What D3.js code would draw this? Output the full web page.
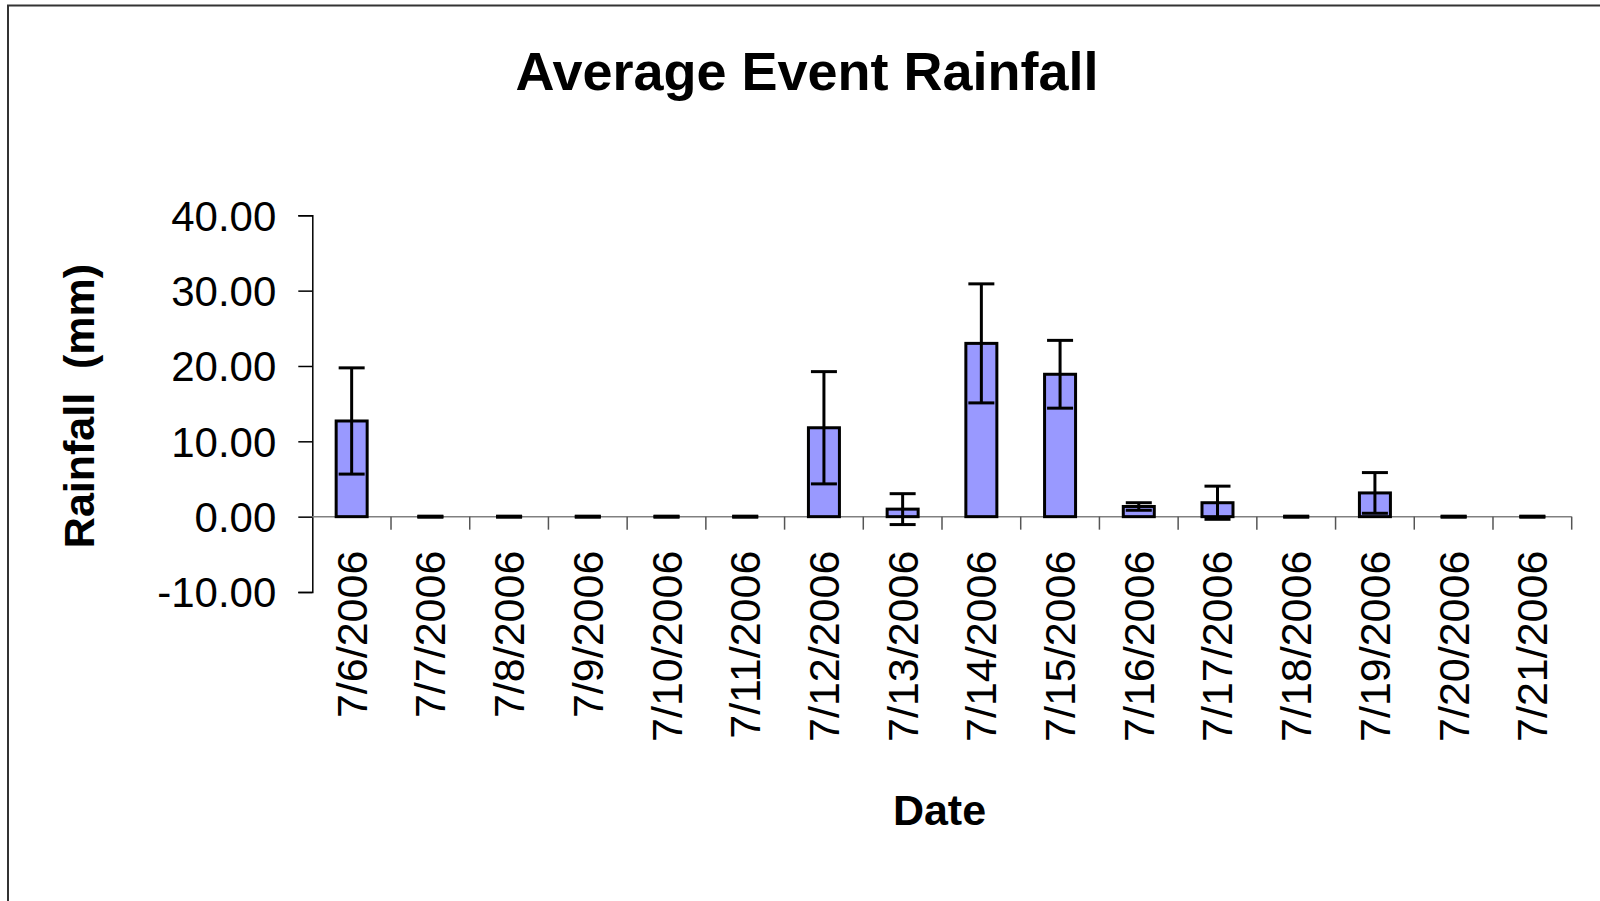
<!DOCTYPE html>
<html>
<head>
<meta charset="utf-8">
<script src="https://cdn.jsdelivr.net/npm/d3@7"></script>
<style>
  html, body { margin: 0; padding: 0; background: #fff; }
  svg { display: block; }
  text { font-family: "Liberation Sans", Arial, sans-serif; fill: #000; }
</style>
</head>
<body>
<svg id="chart" width="1600" height="901"></svg>
<script>
// Daily average event rainfall (mm) with standard-deviation error bars
const dates = ["7/6/2006", "7/7/2006", "7/8/2006", "7/9/2006", "7/10/2006", "7/11/2006",
  "7/12/2006", "7/13/2006", "7/14/2006", "7/15/2006", "7/16/2006", "7/17/2006",
  "7/18/2006", "7/19/2006", "7/20/2006", "7/21/2006"];
const rainfall = [12.7, 0, 0, 0, 0, 0, 11.8, 1.0, 23.0, 18.9, 1.35, 1.85, 0, 3.15, 0, 0];
const errors = [7.05, 0, 0, 0, 0, 0, 7.45, 2.05, 7.9, 4.5, 0.5, 2.2, 0, 2.7, 0, 0];
const yTicks = [-10, 0, 10, 20, 30, 40];

const svg = d3.select("#chart");

// outer chart frame (top and left edges)
svg.append("path")
  .attr("d", "M8,901 V5.5 H1600")
  .attr("fill", "none").attr("stroke", "#333").attr("stroke-width", 2);

const x = d3.scaleBand().domain(dates).range([312.3, 1571.7]).padding(0);
const y = d3.scaleLinear().domain([-10, 40]).range([592, 215.3]);

const barW = 31, capW = 26;
const cx = d => x(d) + x.bandwidth() / 2;
const rows = dates.map((d, i) => ({ date: d, v: rainfall[i], e: errors[i] }));

// y axis
const yAxis = svg.append("g").attr("transform", "translate(312.3,0)")
  .call(d3.axisLeft(y).tickValues(yTicks).tickSize(14).tickPadding(22)
    .tickFormat(v => v.toFixed(2)));
yAxis.select(".domain").attr("stroke", "#000").attr("stroke-width", 1.5);
yAxis.selectAll(".tick line").attr("stroke", "#000").attr("stroke-width", 1.5);
yAxis.selectAll(".tick text")
  .style("font-family", "'Liberation Sans', Arial, sans-serif")
  .style("font-size", "42px").attr("fill", "#000").attr("dy", "0.35em");

// category axis along the zero line
const xAxis = svg.append("g").attr("transform", `translate(0,${y(0)})`);
xAxis.append("line")
  .attr("x1", x.range()[0]).attr("x2", x.range()[1])
  .attr("stroke", "#808080").attr("stroke-width", 1.5);
xAxis.selectAll("line.tick")
  .data(dates.map(d => x(d)).concat([x.range()[1]]).slice(1))
  .join("line").attr("class", "tick")
  .attr("x1", d => d).attr("x2", d => d).attr("y1", 0).attr("y2", 13)
  .attr("stroke", "#555").attr("stroke-width", 1.5);
xAxis.selectAll("text")
  .data(dates).join("text")
  .attr("transform", d => `translate(${cx(d) + 15},34) rotate(-90)`)
  .attr("text-anchor", "end")
  .style("font-size", "43px")
  .text(d => d);

// bars
svg.append("g").selectAll("rect")
  .data(rows.filter(r => r.v !== 0)).join("rect")
  .attr("x", r => cx(r.date) - barW / 2)
  .attr("width", barW)
  .attr("y", r => y(r.v))
  .attr("height", r => y(0) - y(r.v))
  .attr("fill", "#9999FF").attr("stroke", "#000").attr("stroke-width", 3);

// error bars
const eb = svg.append("g").attr("stroke", "#000").attr("stroke-width", 3);
eb.selectAll("line.stem").data(rows).join("line").attr("class", "stem")
  .attr("x1", r => cx(r.date)).attr("x2", r => cx(r.date))
  .attr("y1", r => y(r.v + r.e)).attr("y2", r => y(r.v - r.e));
eb.selectAll("line.capTop").data(rows).join("line").attr("class", "capTop")
  .attr("x1", r => cx(r.date) - capW / 2).attr("x2", r => cx(r.date) + capW / 2)
  .attr("y1", r => y(r.v + r.e)).attr("y2", r => y(r.v + r.e));
eb.selectAll("line.capBot").data(rows).join("line").attr("class", "capBot")
  .attr("x1", r => cx(r.date) - capW / 2).attr("x2", r => cx(r.date) + capW / 2)
  .attr("y1", r => y(r.v - r.e)).attr("y2", r => y(r.v - r.e))
  .attr("stroke-width", r => r.e === 0 ? 4 : 3);

// titles
svg.append("text").attr("x", 807).attr("y", 89.5)
  .attr("text-anchor", "middle")
  .style("font-size", "54px").style("font-weight", "bold")
  .text("Average Event Rainfall");

svg.append("text").attr("x", 939.5).attr("y", 825)
  .attr("text-anchor", "middle")
  .style("font-size", "43px").style("font-weight", "bold")
  .text("Date");

svg.append("text")
  .attr("transform", "translate(94,406) rotate(-90)")
  .attr("text-anchor", "middle")
  .style("font-size", "43px").style("font-weight", "bold")
  .style("white-space", "pre")
  .text("Rainfall  (mm)");
</script>
</body>
</html>
